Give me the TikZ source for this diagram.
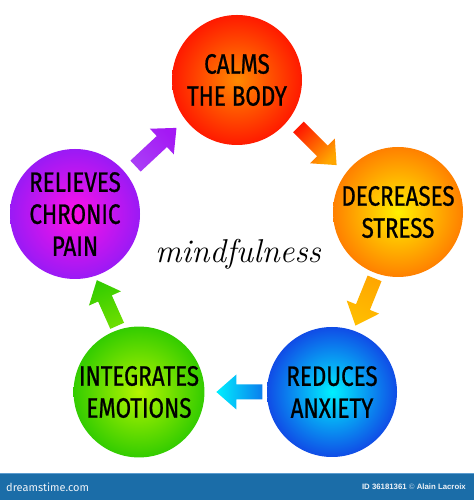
\documentclass[tikz,border=0pt]{standalone}
\usepackage{fontspec}
\usetikzlibrary{calc}
\newfontfamily\circfont[FakeStretch=0.8,FakeBold=0.8]{Fira Sans}
\newfontfamily\barfont{Liberation Sans}
\newfontfamily\logofont{Fira Sans}

\definecolor{redIn}{HTML}{FF8A00}
\definecolor{redOut}{HTML}{FF1A00}
\definecolor{orIn}{HTML}{FFF000}
\definecolor{orOut}{HTML}{FF8000}
\definecolor{puIn}{HTML}{FF10E8}
\definecolor{puOut}{HTML}{9A1AF5}
\definecolor{grIn}{HTML}{B4F500}
\definecolor{grOut}{HTML}{33CC00}
\definecolor{blIn}{HTML}{00F0FF}
\definecolor{blOut}{HTML}{104CE6}
\definecolor{barblue}{HTML}{1B6DA8}
\definecolor{barline}{HTML}{5C9CCF}
\definecolor{bartext}{HTML}{EEF3F8}

\tikzset{
  ball/.style={circle, minimum size=130pt, inner sep=0pt, align=center,
    text=black, font=\circfont\fontsize{28}{32}\selectfont},
}

% #1 from node, #2 to node, #3 fraction, #4 angle, #5 length, #6 tail colour, #7 head colour, #8 name
\newcommand\blockarrow[8]{%
  \pgfmathsetmacro\bhl{#5/2}%
  \pgfmathsetmacro\bhb{#5/2-20}%
  \pgfmathsetmacro\bsa{#4+90}%
  \coordinate (#8) at ($(#1)!#3!(#2)$);
  \shade[top color=#7, bottom color=#6, shading angle=\bsa]
    ($(#8)+(#4:-\bhl)+(#4+90:-7.5)$) --
    ($(#8)+(#4:\bhb)+(#4+90:-7.5)$) --
    ($(#8)+(#4:\bhb)+(#4+90:-17.5)$) --
    ($(#8)+(#4:\bhl)$) --
    ($(#8)+(#4:\bhb)+(#4+90:17.5)$) --
    ($(#8)+(#4:\bhb)+(#4+90:7.5)$) --
    ($(#8)+(#4:-\bhl)+(#4+90:7.5)$) -- cycle;
}

\begin{document}
\begin{tikzpicture}[x=1pt,y=1pt]
\useasboundingbox (0,0) rectangle (474,500);
\fill[white] (0,0) rectangle (474,500);

% circles
\node[ball, inner color=redIn, outer color=redOut] (calm) at (237,420) {CALMS\\THE BODY};
\node[ball, inner color=orIn, outer color=orOut] (stress) at (398,288) {DECREASES\\STRESS};
\node[ball, inner color=blIn, outer color=blOut] (anxiety) at (332,108) {REDUCES\\ANXIETY};
\node[ball, inner color=grIn, outer color=grOut] (emotions) at (139,108) {INTEGRATES\\EMOTIONS};
\node[ball, inner color=puIn, outer color=puOut] (pain) at (75,286) {RELIEVES\\CHRONIC\\PAIN};

% arrows
\blockarrow{pain}{calm}{0.5}{43}{56}{puOut!90!puIn}{puOut!85!white}{a1}
\blockarrow{calm}{stress}{0.5}{-45}{54}{orange!70!yellow}{redOut}{a2}
\blockarrow{stress}{anxiety}{0.5}{-112}{51}{orIn!55!orOut}{orOut!65!orIn}{a3}
\blockarrow{anxiety}{emotions}{0.48}{180}{46}{blIn}{blOut!70!blIn}{a4}
\blockarrow{emotions}{pain}{0.5}{114}{50}{grOut}{grOut!55!grIn}{a5}

% title
\node[font=\itshape\fontsize{33}{36}\selectfont, anchor=base] (mind) at (238,237) {mindfulness};

% bottom bar
\fill[barblue] (0,0) rectangle (474,27);
\draw[barline, line width=0.8pt] (0,27) -- (474,27);
\node[anchor=west, text=bartext, font=\logofont\fontsize{11}{12}\selectfont, inner sep=0pt] (logo) at (6,12.5) {dreamstime.com};
\node[anchor=east, text=bartext, font=\barfont\bfseries\fontsize{7.8}{9}\selectfont, inner sep=0pt] (credit) at (466,13) {ID 36181361 {\color{bartext!60!barblue}\textcopyright} Alain Lacroix};
\end{tikzpicture}
\end{document}
